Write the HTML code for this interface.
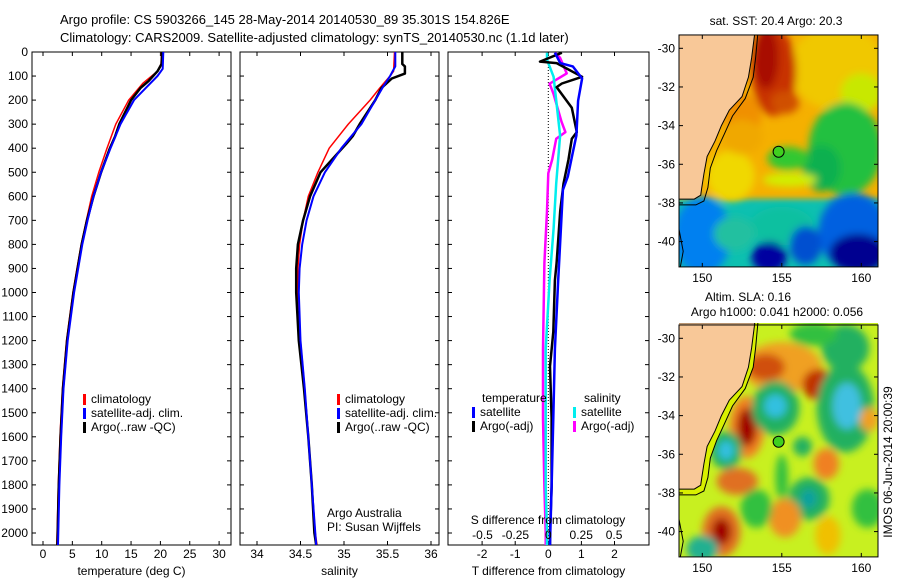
<!DOCTYPE html>
<html><head><meta charset="utf-8"><style>
body{margin:0;background:#fff;}
svg{display:block;font-family:"Liberation Sans",sans-serif;}
text{font-size:12px;fill:#000;}
</style></head><body>
<svg id="fig" width="900" height="580" xmlns="http://www.w3.org/2000/svg">
<defs>
<filter id="blur" x="-20%" y="-20%" width="140%" height="140%"><feGaussianBlur stdDeviation="3"/></filter>
<filter id="blur2" x="-30%" y="-30%" width="160%" height="160%"><feGaussianBlur stdDeviation="4"/></filter>
<clipPath id="clipA"><rect x="679" y="35" width="199" height="232"/></clipPath>
<clipPath id="clipB"><rect x="679" y="323" width="199" height="234"/></clipPath>
<clipPath id="clipP1"><rect x="32" y="52" width="199" height="493"/></clipPath>
<clipPath id="clipP2"><rect x="240" y="52" width="199" height="493"/></clipPath>
<clipPath id="clipP3"><rect x="448" y="52" width="201" height="493"/></clipPath>
</defs>
<text x="60" y="24" style="font-size:13px">Argo profile: CS 5903266_145 28-May-2014 20140530_89 35.301S 154.826E</text>
<text x="60" y="42" style="font-size:13px">Climatology: CARS2009. Satellite-adjusted climatology: synTS_20140530.nc (1.1d later)</text>
<g id="g"></g>
</svg>
<script>
// ---- data ----
const tDepth = [0,50,80,130,200,300,400,500,600,700,800,900,1000,1200,1400,1600,1800,2000,2050];
const tClim  = [20.2,20.1,19.5,17.0,14.6,12.4,10.9,9.5,8.3,7.4,6.5,5.8,5.1,4.0,3.3,2.9,2.6,2.4,2.35];
const tSatDepth = [0,70,100,150,200,300,400,500,600,700,800,1000,1200,1400,1600,1800,2000,2050];
const tSat   = [20.5,20.4,19.5,17.5,15.5,13.2,11.5,9.9,8.6,7.6,6.7,5.3,4.2,3.5,3.1,2.8,2.6,2.55];
const tArgoDepth = [0,50,80,120,150,200,300,350,400,500,600,700,800,1000,1200,1400,1600,1800,2000,2050];
const tArgo  = [20.3,20.2,19.5,18.0,16.6,15.0,13.0,12.3,11.4,9.9,8.6,7.5,6.6,5.2,4.1,3.4,3.0,2.7,2.5,2.45];

const sDepth = [0,80,100,150,200,300,400,500,600,700,800,900,1000,1200,1400,1600,1800,2000,2050];
const sClim  = [35.58,35.57,35.53,35.41,35.30,35.05,34.83,34.70,34.59,34.53,34.49,34.47,34.47,34.50,34.55,34.59,34.63,34.67,34.69];
const sSatDepth = [0,60,100,150,200,300,400,500,600,700,800,900,1000,1200,1400,1600,1800,2000,2050];
const sSat   = [35.59,35.59,35.53,35.44,35.36,35.20,34.97,34.78,34.65,34.57,34.52,34.49,34.48,34.50,34.55,34.59,34.63,34.67,34.68];
const sArgoDepth = [0,50,60,90,110,150,200,300,350,380,400,500,600,700,800,900,1000,1200,1400,1600,1800,2000,2050];
const sArgo  = [35.67,35.67,35.70,35.70,35.55,35.43,35.36,35.18,35.10,35.03,34.98,34.73,34.61,34.53,34.47,34.45,34.45,34.48,34.54,34.59,34.63,34.66,34.68];

const dTSatDepth = [3,46,60,110,203,347,418,518,574,734,949,1235,1522,1809,2000,2050];
const dTSat = [0.2,0.36,0.74,1.02,0.9,0.85,0.74,0.59,0.44,0.38,0.30,0.2,0.15,0.1,0.06,0.05];
const dTArgoDepth = [3,40,46,103,131,146,232,333,361,447,547,662,877,949,1164,1307,1522,1809,2000,2050];
const dTArgo = [0.41,-0.25,0.25,1.02,0.41,0.25,0.71,0.86,0.71,0.61,0.46,0.36,0.25,0.2,0.15,0.05,0.1,0.1,0.05,0.05];
const dSSatDepth = [3,32,103,347,547,734,949,1235,1522,1809,2000,2050];
const dSSat = [-0.01,-0.01,0.04,0.09,0.06,0.04,0.01,-0.02,-0.02,-0.02,-0.01,-0.01];
const dSArgoDepth = [3,24,89,132,175,290,333,361,447,504,662,877,1235,1522,1809,2000,2050];
const dSArgo = [0.05,0.09,0.14,0.01,0.04,0.10,0.13,0.06,0.03,0.0,-0.01,-0.03,-0.04,-0.04,-0.03,-0.02,-0.02];

const depthTicks = [0,100,200,300,400,500,600,700,800,900,1000,1100,1200,1300,1400,1500,1600,1700,1800,1900,2000];
const tTicks = [0,5,10,15,20,25,30];
const sTicks = [34,34.5,35,35.5,36];
const dTTicks = [-2,-1,0,1,2];
const dSTicks = [-0.5,-0.25,0,0.25,0.5];
const latTicks = [-30,-32,-34,-36,-38,-40];
const lonTicks = [150,155,160];

// ---- scales ----
const yD = d => 52 + d*0.2405;
const xT = t => 43 + t*5.87;
const xS = s => 257 + (s-34)*87;
const xDT = v => 548.3 + v*33.1;
const xDS = v => 548.3 + v*131.6;
const mx = lon => 702.3 + (lon-150)*15.9;
const myA = lat => 48.3 + (-30-lat)*19.33;
const myB = lat => 338.3 + (-30-lat)*19.33;

const NS='http://www.w3.org/2000/svg';
const G=document.getElementById('g');
function mk(tag,attrs,parent){const e=document.createElementNS(NS,tag);for(const k in attrs)e.setAttribute(k,attrs[k]);(parent||G).appendChild(e);return e;}
function txt(x,y,s,anchor,parent,size){const e=mk('text',{x:x,y:y,'text-anchor':anchor||'start'},parent);if(size)e.style.fontSize=size+'px';e.textContent=s;return e;}

// ---- profile panels ----
function panel(x0,x1,clip,xTicks,xf,xlabels,xtitle,name,showDepth){
  const g=mk('g',{});
  
  
  mk('rect',{x:x0,y:52,width:x1-x0,height:493,fill:'none',stroke:'#000','stroke-width':1},g);
  depthTicks.forEach(d=>{const y=yD(d);
    mk('line',{x1:x0,x2:x0+4,y1:y,y2:y,stroke:'#000'},g);
    mk('line',{x1:x1,x2:x1-4,y1:y,y2:y,stroke:'#000'},g);
    if(showDepth){const t=txt(28,y+4,String(d),'end',g);}
  });
  xTicks.forEach((v,i)=>{const x=xf(v);
    mk('line',{x1:x,x2:x,y1:545,y2:541,stroke:'#000'},g);
    mk('line',{x1:x,x2:x,y1:52,y2:56,stroke:'#000'},g);
    if(xlabels){const t=txt(x,558,xlabels[i],'middle',g);}
  });
  const tt=txt((x0+x1)/2,575,xtitle,'middle',g);
  
  
  return g;
}
function line(depths,vals,xf,color,w,clip,name){
  const pts=depths.map((d,i)=>xf(vals[i]).toFixed(1)+','+yD(d).toFixed(1)).join(' ');
  const p=mk('polyline',{points:pts,fill:'none',stroke:color,'stroke-width':w,'clip-path':'url(#'+clip+')','stroke-linejoin':'round'});
  
  
}
function legend(x,y,items){
  items.forEach((it,i)=>{
    const r=mk('rect',{x:x,y:y+i*14-9,width:3,height:11,fill:it[1]});
    
    
    const t=txt(x+8,y+i*14,it[0],'start');
    
    
  });
}

panel(32,231,'clipP1',tTicks,xT,tTicks.map(String),'temperature (deg C)','temperature-panel',true);
line(tDepth,tClim,xT,'#f00',1.5,'clipP1','temp-climatology-line');
line(tArgoDepth,tArgo,xT,'#000',2.5,'clipP1','temp-argo-line');
line(tSatDepth,tSat,xT,'#00f',2,'clipP1','temp-satellite-line');
legend(83,403,[['climatology','#f00'],['satellite-adj. clim.','#00f'],['Argo(..raw -QC)','#000']]);

panel(240,439,'clipP2',sTicks,xS,['34','34.5','35','35.5','36'],'salinity','salinity-panel',false);
line(sDepth,sClim,xS,'#f00',1.5,'clipP2','sal-climatology-line');
line(sArgoDepth,sArgo,xS,'#000',2.5,'clipP2','sal-argo-line');
line(sSatDepth,sSat,xS,'#00f',2,'clipP2','sal-satellite-line');
legend(337,403,[['climatology','#f00'],['satellite-adj. clim.','#00f'],['Argo(..raw -QC)','#000']]);
let t1=txt(327,517,'Argo Australia');
let t2=txt(327,531,'PI: Susan Wijffels');

panel(448,649,'clipP3',dTTicks,xDT,['-2','-1','0','1','2'],'T difference from climatology','difference-panel',false);
const zl=mk('line',{x1:xDT(0),x2:xDT(0),y1:52,y2:545,stroke:'#000','stroke-dasharray':'1,2','stroke-width':1});


line(dSArgoDepth,dSArgo,xDS,'#f0f',2.5,'clipP3','sal-diff-argo-line');
line(dSSatDepth,dSSat,xDS,'#0ee',2.5,'clipP3','sal-diff-satellite-line');
line(dTArgoDepth,dTArgo,xDT,'#000',2.5,'clipP3','temp-diff-argo-line');
line(dTSatDepth,dTSat,xDT,'#00f',2.5,'clipP3','temp-diff-satellite-line');
let st=txt(548,524,'S difference from climatology','middle');
dSTicks.forEach(v=>{const t=txt(xDS(v),539,String(v),'middle');});
let lh1=txt(482,402,'temperature');
let lh2=txt(584,402,'salinity');
legend(472,416,[['satellite','#00f'],['Argo(-adj)','#000']]);
legend(573,416,[['satellite','#0ee'],['Argo(-adj)','#f0f']]);

// ---- maps ----
const land=[[148.4,-29.2],[153.3,-29.2],[153.1,-30.5],[152.9,-31.5],[152.5,-32.5],[151.7,-33.2],[151.2,-34],[150.8,-34.8],[150.3,-35.6],[150.1,-36.5],[149.95,-37.3],[149.9,-37.6],[149.5,-37.8],[148.4,-37.8]];
const contour=[[153.5,-29.2],[153.35,-30.5],[153.2,-31.5],[152.7,-32.6],[151.9,-33.5],[151.4,-34.4],[150.9,-35.3],[150.5,-36.2],[150.35,-37.2],[150.1,-37.9],[149.6,-38.1],[148.4,-38.1]];
const blobsA=[ // lon,lat,rx,ry,color
 [158.5,-31,3,2.2,'#f0c800'],[160,-32.3,1.3,1,'#c8e800'],
 [154.5,-31.2,1.4,2.3,'#c83000'],[154,-30.5,0.8,1.6,'#a80800'],[155.2,-32.8,0.9,0.6,'#d05000'],
 [152.5,-33.5,1.2,1.2,'#f09000'],
 [159,-35.2,2.3,2.4,'#20c040'],[157.5,-36.2,1.2,1.2,'#10b050'],[155.4,-35.7,1.3,0.6,'#30c830'],
 [155.5,-36.8,1.7,0.35,'#d0f000'],[151.8,-36.6,1.5,1.3,'#f0d800'],[152.5,-34.6,1.3,0.9,'#f0a800'],
 [150,-39.7,1.8,2,'#0080f0'],[159.5,-39.5,2.2,2,'#0060e0'],[155,-39.2,2,1,'#10c0a0'],
 [159.8,-40.6,1.8,1,'#000090'],[154.2,-40.8,1.1,0.8,'#0000a0'],[156.5,-40.2,1,1,'#0050d0'],[152,-39.6,1.3,0.9,'#20c0a0']];
const blobsB=[
 [155,-31.5,2.5,1.3,'#f0a020'],[154,-31.5,1.2,0.7,'#d05010'],[157.3,-32.4,1,0.8,'#c03000'],
 [152.8,-34.6,1.1,1.6,'#f08020'],[152.8,-34.6,0.6,1.0,'#a00000'],
 [154.6,-33.6,1.5,1.4,'#20b060'],[154.6,-33.5,0.7,0.6,'#30c0e0'],
 [159,-33.6,1.8,2.3,'#20b060'],[159.1,-33.5,0.9,1.2,'#40c0e0'],
 [151.5,-35.8,1,1,'#20b060'],[151.5,-35.8,0.5,0.5,'#30c0e0'],
 [156.3,-35.6,0.6,0.5,'#20b060'],[157.8,-36.5,0.8,0.8,'#f08020'],[152.2,-37.4,1.3,0.7,'#e07020'],
 [155,-37.2,0.4,1.2,'#30c040'],[156.7,-38.3,1.3,1.1,'#20b060'],[156.7,-38.3,0.5,0.5,'#10a0a0'],
 [155.2,-39.3,1,1,'#f09020'],[157.9,-40.2,0.8,1,'#f0c000'],[151.2,-40,1.2,1.3,'#e07020'],
 [151.2,-40,0.6,0.7,'#a00000'],[159,-30.5,1.5,1.2,'#20b060'],[157,-29.8,1.5,0.6,'#30c040'],
 [153.4,-38.8,1,1,'#30c040'],[160.4,-38.8,1,1,'#30c040'],[150,-40.9,1,0.7,'#20b090'],[160.5,-34.2,0.6,0.6,'#f0a020']];
function drawMap(myf,clip,base,blobs,name){
  const g=mk('g',{'clip-path':'url(#'+clip+')'});
  
  
  mk('rect',{x:670,y:myf(-28.5),width:220,height:myf(-42)-myf(-28.5),fill:base},g);
  if(name==='sst-map'){mk('rect',{x:670,y:myf(-37.8),width:220,height:100,fill:'#10c0b0',filter:'url(#blur)'},g);}
  const bg=mk('g',{filter:'url(#blur2)'},g);
  blobs.forEach(b=>{mk('ellipse',{cx:mx(b[0]),cy:myf(b[1]),rx:b[2]*15.9,ry:b[3]*19.33,fill:b[4]},bg);});
  const pt=a=>a.map(p=>mx(p[0]).toFixed(1)+','+myf(p[1]).toFixed(1)).join(' ');
  if(name==='sla-map'){mk('polygon',{points:pt(land.concat(contour.slice().reverse())),fill:'#d8f000'},g);}
  mk('polyline',{points:pt(contour),fill:'none',stroke:'#000','stroke-width':1},g);
  mk('polygon',{points:pt(land),fill:'#f8c898',stroke:'#000','stroke-width':1},g);
  mk('polyline',{points:pt([[148.5,-39.2],[148.8,-40.5],[148.6,-41.4]]),fill:'none',stroke:'#000'},g);
  const c=mk('circle',{cx:mx(154.8),cy:myf(-35.35),r:5.5,fill:'#40d020',stroke:'#000','stroke-width':1},g);
  
  
  const top=myf(-29.31), bot=myf(-41.31);
  const fr=mk('rect',{x:679,y:top,width:199,height:bot-top,fill:'none',stroke:'#000'});
  
  
  latTicks.forEach(l=>{const y=myf(l);mk('line',{x1:679,x2:683,y1:y,y2:y,stroke:'#000'});mk('line',{x1:878,x2:874,y1:y,y2:y,stroke:'#000'});
    const t=txt(675,y+4,String(l),'end');});
  lonTicks.forEach(l=>{const x=mx(l);mk('line',{x1:x,x2:x,y1:bot,y2:bot-4,stroke:'#000'});mk('line',{x1:x,x2:x,y1:top,y2:top+4,stroke:'#000'});
    const t=txt(x,bot+15,String(l),'middle');});
}
drawMap(myA,'clipA','#f5b000',blobsA,'sst-map');
drawMap(myB,'clipB','#c8f020',blobsB,'sla-map');
let m1=txt(776,25,'sat. SST: 20.4 Argo: 20.3','middle');
let m2=txt(748,301,'Altim. SLA: 0.16','middle');
let m3=txt(777,316,'Argo h1000: 0.041 h2000: 0.056','middle');
let im=txt(0,0,'IMOS 06-Jun-2014 20:00:39','middle');
im.setAttribute('transform','translate(892,462) rotate(-90)');


</script>
</body></html>
